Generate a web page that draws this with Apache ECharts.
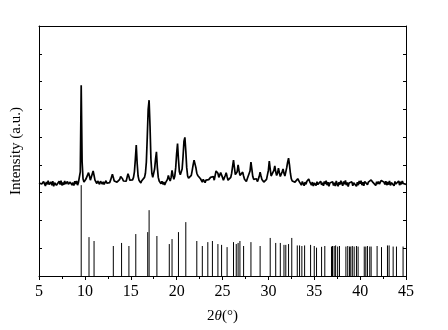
<!DOCTYPE html>
<html>
<head>
<meta charset="utf-8">
<script src="https://cdn.jsdelivr.net/npm/echarts@6/dist/echarts.min.js"></script>
<style>html,body{margin:0;padding:0;background:#fff;}#c{width:448px;height:330px;}</style>
</head>
<body>
<div id="c"></div>
<script>
// Measured pattern: 2θ from 5.0° to 45.0° in 0.1° steps
const scanStart = 5.0;
const scanStep = 0.1;
const measured = [
3.35,3.28,3.42,3.31,3.26,3.40,3.33,3.24,3.39,3.30,
3.43,3.29,3.25,3.38,3.27,3.41,3.23,3.36,3.40,3.27,
3.34,3.24,3.41,3.29,3.43,3.26,3.37,3.28,3.42,3.31,
3.25,3.40,3.30,3.23,3.38,3.44,3.27,3.36,3.26,3.41,
3.31,3.42,3.27,3.37,3.42,3.75,6.87,4.10,3.50,3.38,
3.40,3.48,3.42,3.55,3.72,3.60,3.45,3.40,3.52,3.78,
3.62,3.45,3.40,3.33,3.42,3.36,3.30,3.41,3.35,3.31,
3.39,3.30,3.37,3.43,3.34,3.29,3.40,3.36,3.45,3.52,
3.66,3.55,3.42,3.36,3.44,3.38,3.33,3.43,3.48,3.58,
3.62,3.50,3.42,3.37,3.46,3.41,3.55,3.68,3.58,3.45,
3.44,3.38,3.46,3.55,3.75,4.20,4.71,4.05,3.60,3.45,
3.40,3.35,3.43,3.38,3.47,3.55,3.70,4.10,5.00,6.00,
6.33,5.40,4.20,3.70,3.55,3.62,3.85,4.20,4.47,3.90,
3.55,3.42,3.36,3.32,3.41,3.30,3.38,3.28,3.36,3.40,
3.48,3.62,3.50,3.42,3.55,3.80,3.62,3.48,3.60,3.90,
4.40,4.77,4.20,3.75,3.65,3.70,3.85,4.30,4.85,4.99,
4.50,3.90,3.60,3.52,3.46,3.55,3.62,3.80,4.00,4.17,
4.17,3.90,3.70,3.62,3.55,3.60,3.50,3.44,3.38,3.48,
3.42,3.36,3.45,3.38,3.52,3.47,3.40,3.55,3.60,3.50,
3.58,3.45,3.62,3.78,3.85,3.70,3.55,3.58,3.72,3.70,
3.55,3.45,3.50,3.62,3.72,3.58,3.45,3.40,3.48,3.55,
3.70,3.95,4.17,3.90,3.65,3.58,3.75,4.00,3.80,3.62,
3.55,3.62,3.74,3.60,3.48,3.45,3.40,3.50,3.46,3.55,
3.78,4.10,3.85,3.58,3.48,3.52,3.43,3.50,3.40,3.48,
3.58,3.74,3.60,3.47,3.41,3.38,3.45,3.40,3.48,3.55,
3.80,4.14,3.85,3.60,3.55,3.65,3.80,3.96,3.75,3.62,
3.70,3.88,3.72,3.58,3.62,3.75,3.85,3.70,3.60,3.75,
3.90,4.10,4.24,4.00,3.70,3.50,3.42,3.36,3.45,3.38,
3.37,3.42,3.50,3.49,3.38,3.31,3.27,3.40,3.33,3.25,
3.38,3.30,3.41,3.45,3.49,3.40,3.33,3.27,3.38,3.24,
3.35,3.42,3.26,3.39,3.30,3.23,3.37,3.41,3.28,3.36,
3.25,3.40,3.31,3.43,3.27,3.38,3.23,3.35,3.42,3.28,
3.39,3.26,3.36,3.24,3.42,3.31,3.23,3.38,3.29,3.43,
3.33,3.25,3.40,3.30,3.44,3.27,3.37,3.22,3.35,3.41,
3.28,3.39,3.25,3.36,3.43,3.31,3.23,3.38,3.27,3.42,
3.32,3.43,3.27,3.38,3.25,3.40,3.33,3.44,3.29,3.38,
3.42,3.33,3.46,3.48,3.37,3.30,3.40,3.26,3.39,3.31,
3.40,3.31,3.37,3.44,3.46,3.49,3.38,3.30,3.41,3.27,
3.38,3.29,3.42,3.26,3.36,3.43,3.32,3.25,3.40,3.31,
3.24,3.37,3.42,3.27,3.39,3.30,3.42,3.33,3.26,3.38,
3.30
];

// Reference (simulated) reflections
const stickAngles = [
9.6,10.45,11.0,13.1,14.0,14.8,15.55,16.85,17.0,17.85,
19.2,19.5,20.2,21.0,22.2,22.8,23.4,23.9,24.5,24.9,
25.5,26.2,26.5,26.7,26.9,27.3,28.1,29.1,30.2,30.8,
31.3,31.7,31.9,32.2,32.55,33.15,33.4,33.65,33.95,34.6,
35.0,35.25,35.8,36.15,36.88,36.99,37.17,37.33,37.55,37.75,
38.45,38.65,38.85,38.98,39.15,39.35,39.6,39.78,40.45,40.62,
40.8,41.05,41.2,41.85,42.33,42.98,43.16,43.6,43.96,44.68
];
const stickHeights = [
3.27,1.40,1.26,1.08,1.19,1.08,1.51,1.58,2.37,1.44,
1.15,1.33,1.58,1.94,1.26,1.08,1.22,1.26,1.15,1.12,
1.04,1.22,1.15,1.19,1.26,1.08,1.22,1.08,1.37,1.19,
1.19,1.12,1.12,1.15,1.37,1.10,1.10,1.08,1.10,1.12,
1.08,1.02,1.05,1.08,1.06,1.08,1.08,1.10,1.06,1.08,
1.06,1.08,1.06,1.06,1.08,1.06,1.08,1.06,1.06,1.06,
1.08,1.06,1.06,1.08,1.04,1.10,1.10,1.06,1.06,1.06
];
const xTicks = [5,10,15,20,25,30,35,40,45];

const curveData = measured.map((v, i) => [+(scanStart + i * scanStep).toFixed(2), v]);
const stickData = stickAngles.map((a, i) => [a, stickHeights[i]]);

const serif = '"Liberation Serif","DejaVu Serif",serif';
const chart = echarts.init(document.getElementById('c'), null, {renderer: 'canvas'});
chart.setOption({
  animation: false,
  backgroundColor: '#fff',
  grid: {left: 39, right: 42, top: 26, bottom: 54},
  xAxis: [{
    type: 'value', min: xTicks[0], max: xTicks[xTicks.length - 1], interval: 5, position: 'bottom',
    axisLine: {onZero: false, lineStyle: {color: '#000', width: 1}},
    axisTick: {inside: false, length: 4, lineStyle: {color: '#000'}},
    minorTick: {show: true, splitNumber: 2, length: 3, lineStyle: {color: '#000'}},
    splitLine: {show: false},
    axisLabel: {color: '#000', fontFamily: serif, fontSize: 16, margin: 8},
    name: '{a|2}{t|θ}{a|(°)}', nameLocation: 'middle', nameGap: 33,
    nameTextStyle: {rich: {a: {fontFamily: serif, fontSize: 15, color: '#000'},
                           t: {fontFamily: serif, fontSize: 15, fontStyle: 'italic', color: '#000'}}}
  }, {
    type: 'value', min: xTicks[0], max: xTicks[xTicks.length - 1], position: 'top',
    axisLine: {onZero: false, lineStyle: {color: '#000', width: 1}},
    axisTick: {show: false}, axisLabel: {show: false}, splitLine: {show: false}
  }],
  yAxis: [{
    type: 'value', min: 0, max: 9, interval: 1, position: 'left',
    axisLine: {show: true, onZero: false, lineStyle: {color: '#000', width: 1}},
    axisTick: {show: true, inside: true, length: 3, lineStyle: {color: '#000'}},
    axisLabel: {show: false}, splitLine: {show: false},
    name: 'Intensity (a.u.)', nameLocation: 'middle', nameGap: 15,
    nameTextStyle: {fontFamily: serif, fontSize: 15, color: '#000'}
  }, {
    type: 'value', min: 0, max: 9, interval: 1, position: 'right',
    axisLine: {show: true, onZero: false, lineStyle: {color: '#000', width: 1}},
    axisTick: {show: true, inside: true, length: 3, lineStyle: {color: '#000'}},
    axisLabel: {show: false}, splitLine: {show: false}
  }],
  series: [{
    type: 'line', xAxisIndex: 0, yAxisIndex: 0, data: curveData,
    showSymbol: false, symbol: 'none',
    lineStyle: {color: '#000', width: 1.7}, z: 3
  }, {
    type: 'custom', xAxisIndex: 0, yAxisIndex: 0, data: stickData,
    renderItem: function (params, api) {
      const p0 = api.coord([api.value(0), 0]);
      const p1 = api.coord([api.value(0), api.value(1)]);
      return {type: 'line', shape: {x1: p0[0], y1: p0[1], x2: p1[0], y2: p1[1]},
              style: {stroke: '#000', lineWidth: 1}};
    }, z: 2
  }]
});
</script>
</body>
</html>
